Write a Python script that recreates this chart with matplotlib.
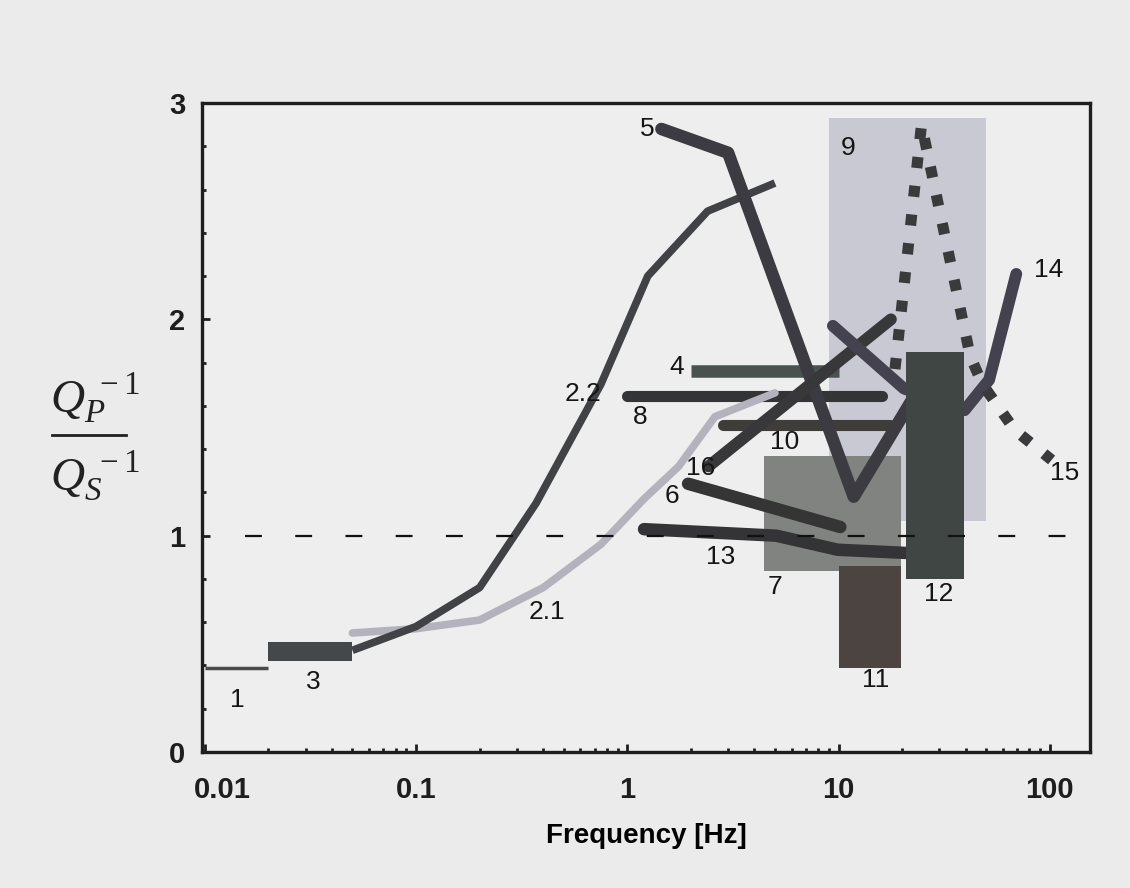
import numpy as np
import matplotlib
matplotlib.use("Agg")
import matplotlib.pyplot as plt
from matplotlib.patches import Rectangle
from matplotlib.lines import Line2D
from matplotlib.transforms import ScaledTranslation

# ---- data (frequency in Hz, ratio Qp^-1/Qs^-1) ----
line1_f = [0.01, 0.02]
line1_v = [0.39, 0.39]

line22_f = [0.05, 0.1, 0.2, 0.37, 0.75, 1.25, 2.4, 5.0]
line22_v = [0.47, 0.58, 0.76, 1.15, 1.70, 2.20, 2.50, 2.63]

line21_f = [0.05, 0.1, 0.2, 0.4, 0.75, 1.2, 1.75, 2.6, 5.0]
line21_v = [0.55, 0.57, 0.61, 0.76, 0.96, 1.17, 1.32, 1.55, 1.66]

line4_f = [2.0, 10.0]
line4_v = [1.76, 1.76]
line5_f = [1.45, 3.0, 11.8, 24.0]
line5_v = [2.88, 2.77, 1.18, 1.68]
line6_f = [1.94, 10.2]
line6_v = [1.24, 1.04]
line8_f = [1.0, 16.0]
line8_v = [1.645, 1.645]
line10_f = [2.85, 17.6]
line10_v = [1.51, 1.51]
line13_f = [1.2, 5.07, 9.9, 21.0]
line13_v = [1.03, 1.00, 0.935, 0.92]
line16_f = [2.42, 17.7]
line16_v = [1.32, 2.0]
line14_f = [9.4, 20.4, 39.5, 51.6, 69.4]
line14_v = [1.97, 1.68, 1.58, 1.72, 2.21]
line15_f = [18.5, 24.7, 42.0, 48.0, 68.0, 102.0]
line15_v = [1.77, 2.90, 1.83, 1.70, 1.49, 1.35]

# boxes: (f_min, f_max, v_min, v_max)
box3 = (0.02, 0.05, 0.42, 0.51)
box7 = (4.46, 19.8, 0.835, 1.37)
box9 = (9.0, 49.7, 1.07, 2.93)
box11 = (10.0, 19.8, 0.39, 0.86)
box12 = (20.9, 39.1, 0.80, 1.85)

# curve labels and where they sit
lab_text = ["1", "3", "2.1", "2.2", "5", "9", "4", "8", "10", "16", "6", "13", "7", "11", "12", "14", "15"]
lab_f = [0.0143, 0.0325, 0.418, 0.618, 1.245, 11.1, 1.71, 1.15, 5.55, 2.22, 1.63, 2.76, 4.98, 15.0, 29.8, 98.9, 118]
lab_v = [0.24, 0.324, 0.648, 1.657, 2.88, 2.79, 1.78, 1.55, 1.435, 1.315, 1.185, 0.90, 0.764, 0.333, 0.73, 2.23, 1.29]

xticks = [0.01, 0.1, 1, 10, 100]
xtick_labels = ["0.01", "0.1", "1", "10", "100"]
yticks = [0, 1, 2, 3]

bg = "#ebebeb"
fig = plt.figure(figsize=(11.3, 8.88), dpi=100, facecolor=bg)
ax = fig.add_axes([202 / 1130, 1 - 752 / 888, 888 / 1130, 649 / 888])
ax.set_facecolor("#eeeeee")
ax.set_xscale("log")
ax.set_xlim(0.0097, 155)
ax.set_ylim(0, 3)


def box(b, color, z):
    ax.add_patch(Rectangle((b[0], b[2]), b[1] - b[0], b[3] - b[2],
                           facecolor=color, edgecolor="none", zorder=z))


box(box9, "#c8c9d2", 1)
box(box3, "#45484a", 3)

# reference line Qp/Qs = 1
ax.plot([0.0155, 120], [1, 1], color="#111111", lw=1.6, dashes=(7.6, 15), zorder=6)

ax.plot(line1_f, line1_v, color="#4a4a4c", lw=2.5, solid_capstyle="butt", zorder=3)
ax.plot(line21_f, line21_v, color="#b4b3bd", lw=5.5, solid_capstyle="round", zorder=3)
ax.plot(line22_f, line22_v, color="#414246", lw=5.5, solid_capstyle="butt", zorder=4)

ax.plot(line4_f, line4_v, color="#49524f", lw=9, solid_capstyle="butt", zorder=2)
ax.plot(line8_f, line8_v, color="#333436", lw=8, solid_capstyle="round", zorder=2)
ax.plot(line10_f, line10_v, color="#3e3d3a", lw=8, solid_capstyle="round", zorder=2)

box(box7, "#80837f", 2.5)
box(box11, "#4c4441", 2.6)

ax.plot(line5_f, line5_v, color="#3b3b41", lw=9, solid_capstyle="round", zorder=4)
ax.plot(line16_f, line16_v, color="#38383a", lw=8.5, solid_capstyle="round", zorder=4)
ax.plot(line6_f, line6_v, color="#353536", lw=9, solid_capstyle="round", zorder=4)
ax.plot(line13_f, line13_v, color="#343436", lw=9, solid_capstyle="round", zorder=4)
ax.plot(line14_f, line14_v, color="#45424f", lw=8.5, solid_capstyle="round", zorder=4)

box(box12, "#3f4643", 4.5)

ax.plot(line15_f, line15_v, color="#3a3a3c", lw=8, dashes=(1, 1.6), zorder=5)

for t, f, v in zip(lab_text, lab_f, lab_v):
    ax.text(f, v, t, fontsize=19, family="Liberation Sans", ha="center", va="center",
            color="#151515", zorder=7)

# axes styling
for s in ax.spines.values():
    s.set_linewidth(2.4)
    s.set_color("#1e1e1e")
    s.set_zorder(8)
ax.set_xticks(xticks)
ax.set_xticklabels(xtick_labels)
ax.set_yticks(yticks)
ax.set_yticks(np.arange(0, 3.01, 0.2), minor=True)
ax.tick_params(which="major", direction="in", length=6, width=2, pad=17, labelsize=21, colors="#1e1e1e")
ax.tick_params(which="minor", direction="in", length=3, width=2, colors="#1e1e1e")
ax.tick_params(axis="y", which="major", pad=12)
for lab in ax.get_xticklabels() + ax.get_yticklabels():
    lab.set_fontweight("bold")
    lab.set_family("Liberation Sans")
first = ax.get_xticklabels()[0]
first.set_transform(first.get_transform() + ScaledTranslation(0.18, 0, fig.dpi_scale_trans))

ax.set_xlabel("Frequency [Hz]", fontsize=20, fontweight="bold", family="Liberation Sans", labelpad=14)

# y label as a stacked fraction
plt.rcParams["mathtext.fontset"] = "custom"
plt.rcParams["mathtext.it"] = "Liberation Serif:italic"
plt.rcParams["mathtext.rm"] = "Liberation Serif"
fig.text(50 / 1130, 1 - 398 / 888, r"$Q_P^{\ -1}$", fontsize=34, ha="left", va="center", color="#222222")
fig.text(50 / 1130, 1 - 476 / 888, r"$Q_S^{\ -1}$", fontsize=34, ha="left", va="center", color="#222222")
fig.add_artist(Line2D([52 / 1130, 126 / 1130], [1 - 435 / 888, 1 - 435 / 888], color="#222222", lw=2))

fig.savefig("out.png", dpi=100, facecolor=bg)
